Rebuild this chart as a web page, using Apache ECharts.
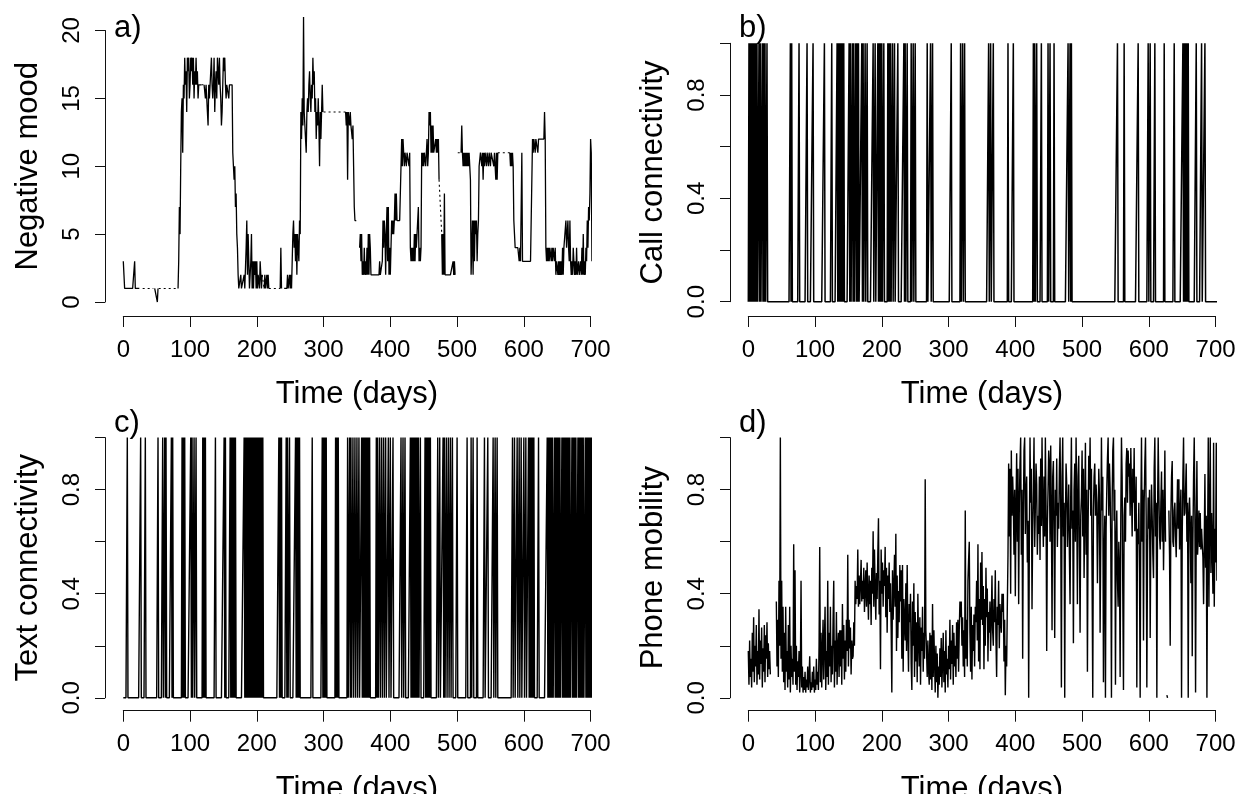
<!DOCTYPE html>
<html><head><meta charset="utf-8">
<script src="https://cdn.jsdelivr.net/npm/echarts@6/dist/echarts.min.js"></script>
<style>html,body{margin:0;padding:0;background:#fff}#c{width:1242px;height:794px}</style>
</head><body><div id="c"></div>
<script>
// ---------- data ----------
const panelLetters = ['a)', 'b)', 'c)', 'd)'];
const yTitles = ['Negative mood', 'Call connectivity', 'Text connectivity', 'Phone mobility'];
const xTitle = 'Time (days)';
const probTickLabels = ['0.0', '0.4', '0.8'];
const nDays = 706;

// a) negative mood, one value per day (null = missing day)
const mood = [
/*0*/ 3,2,1,1,1,1,1,1,1,1,
/*10*/ 1,1,1,1,1,1,1,3,1,1,
/*20*/ 1,1,1,1,1,1,null,1,null,1,
/*30*/ null,null,null,null,null,null,null,null,null,null,
/*40*/ null,null,null,null,null,1,null,1,1,1,
/*50*/ 1,0,1,1,null,null,null,null,null,null,
/*60*/ null,null,null,null,null,null,null,null,null,null,
/*70*/ null,null,null,null,null,null,null,null,null,null,
/*80*/ null,null,1,3,7,5,10,14,15,11,
/*90*/ 16,15,18,16,17,14,18,17,18,15,
/*100*/ 16,18,17,18,16,18,15,17,16,18,
/*110*/ 16,17,15,16,16,16,16,16,null,16,
/*120*/ null,16,16,15,16,15,14,13,16,15,
/*130*/ 16,17,18,16,15,16,18,14,16,17,
/*140*/ 15,18,17,16,18,16,15,13,14,16,
/*150*/ 18,17,18,16,15,16,16,16,15,16,
/*160*/ 16,16,16,16,11,10,9,10,7,8,
/*170*/ 5,4,2,1,1,1,2,1,1,1,
/*180*/ 1,2,1,1,4,6,2,5,3,1,
/*190*/ 2,3,5,1,3,1,3,2,3,1,
/*200*/ 3,1,2,2,1,3,2,1,2,null,
/*210*/ null,1,2,1,1,2,1,2,1,null,
/*220*/ null,null,null,null,null,null,null,null,null,null,
/*230*/ null,null,null,null,null,1,4,1,null,3,
/*240*/ null,1,1,1,1,1,2,1,1,2,
/*250*/ 1,2,1,3,5,6,4,5,3,5,
/*260*/ 2,5,4,3,6,5,14,12,15,13,
/*270*/ 21,14,14,12,11,14,15,14,16,17,
/*280*/ 15,14,16,15,18,16,17,14,15,12,
/*290*/ 14,13,15,13,10,14,12,14,16,14,
/*300*/ 14,null,null,null,null,14,14,null,null,null,
/*310*/ null,null,14,14,null,null,null,null,null,null,
/*320*/ 14,14,null,null,null,null,null,14,14,null,
/*330*/ null,null,null,14,13,14,9,14,14,13,
/*340*/ 14,13,13,12,13,10,7,6,6,6,
/*350*/ null,null,null,null,4,5,3,5,2,3,
/*360*/ 2,4,2,3,2,4,2,5,2,5,
/*370*/ 4,2,2,2,2,2,2,2,2,2,
/*380*/ 2,2,2,2,3,2,2,2,3,6,
/*390*/ 4,6,5,2,5,7,3,7,2,4,
/*400*/ 2,4,6,5,6,5,6,8,6,8,
/*410*/ 6,6,6,6,6,6,6,12,10,12,
/*420*/ 11,10,11,11,10,11,11,11,10,11,
/*430*/ 4,3,4,3,4,3,5,3,5,4,
/*440*/ 4,4,7,3,4,3,4,11,10,11,
/*450*/ 10,11,11,10,11,12,10,11,14,13,
/*460*/ 14,11,13,11,13,11,11,11,12,11,
/*470*/ 12,11,12,9,null,null,null,5,2,5,
/*480*/ 2,8,2,2,2,2,2,2,2,2,
/*490*/ 2,2,2,2,3,2,3,2,null,null,
/*500*/ 11,11,null,null,null,null,11,13,11,10,
/*510*/ 11,10,11,10,11,10,11,10,11,10,
/*520*/ 9,2,2,6,2,6,3,6,5,6,
/*530*/ 3,5,6,10,10,11,11,10,11,9,
/*540*/ 11,10,11,11,10,11,11,10,11,11,
/*550*/ 10,11,11,11,11,10,11,11,9,11,
/*560*/ 9,11,null,null,11,11,null,null,null,null,
/*570*/ null,null,11,11,null,null,null,null,null,11,
/*580*/ 10,11,10,11,10,6,5,4,4,4,
/*590*/ 4,4,4,3,4,3,3,11,3,3,
/*600*/ 3,3,3,3,3,3,3,3,3,3,
/*610*/ 3,3,3,12,11,12,12,11,12,12,
/*620*/ 12,11,12,12,12,12,12,12,12,12,
/*630*/ 12,14,12,4,3,4,3,4,3,4,
/*640*/ 4,3,4,3,4,4,3,4,2,3,
/*650*/ 3,2,3,2,3,2,3,2,4,2,
/*660*/ 4,4,4,6,4,4,6,4,3,6,
/*670*/ 3,2,3,2,4,3,2,3,2,4,
/*680*/ 2,2,3,2,2,3,2,4,2,5,
/*690*/ 2,3,2,4,3,6,4,7,6,8,
/*700*/ 12,11,3,10,11,11
];
// day ranges where missing mood values are bridged by the dotted line
const moodDottedSpans = [[29, 45], [53, 82], [117, 121], [208, 211], [218, 235], [300, 333], [473, 477], [501, 506], [561, 579]];

// b) days with a call (value 1), all other days 0
const callDays = [1,3,5,7,9,11,13,16,18,21,23,25,28,63,65,76,88,97,114,125,
  133,135,137,139,141,143,151,153,156,158,161,163,165,170,172,175,178,187,190,
  194,196,198,200,203,209,211,213,216,219,224,233,235,238,244,247,250,268,273,276,
  304,318,321,324,360,363,367,389,397,427,429,432,439,449,452,458,479,482,484,
  553,563,584,599,602,609,623,638,651,653,655,657,659,671,679,684];

// c) days with a text message (value 1), all other days 0
const textDays = [6,26,33,52,59,62,64,72,74,88,90,92,101,103,106,109,119,121,123,138,
  151,153,160,162,164,166,168,181,183,185,187,189,191,193,195,197,199,201,203,205,207,209,
  233,235,237,244,246,249,258,260,262,264,283,298,300,302,304,318,320,322,
  336,339,341,344,347,350,353,357,359,361,363,365,367,369,
  379,381,384,387,390,393,397,400,404,416,419,422,
  430,432,434,436,438,440,442,445,452,454,456,458,460,
  471,474,479,481,484,487,490,493,500,515,521,524,530,541,546,554,557,560,
  583,586,590,593,596,600,603,607,609,611,613,615,622,
  635,637,639,641,643,646,648,650,652,654,657,659,661,663,665,667,669,
  672,674,676,678,681,683,685,687,689,692,694,696,698,700,702];

// d) phone mobility, one value per day (null = missing day)
const mobility = [
/*0*/ 0.18,0.05,0.22,0.08,0.15,0.04,0.25,0.10,0.31,0.06,
/*10*/ 0.20,0.12,0.28,0.05,0.18,0.09,0.34,0.07,0.22,0.13,
/*20*/ 0.27,0.04,0.19,0.10,0.28,0.06,0.24,0.15,0.29,0.08,
/*30*/ 0.21,0.11,0.18,0.09,null,null,null,null,null,null,
/*40*/ null,null,0.37,0.12,0.30,0.08,0.45,0.20,1.00,0.15,
/*50*/ 0.45,0.10,0.35,0.06,0.25,0.03,0.35,0.10,0.18,0.04,
/*60*/ 0.28,0.07,0.35,0.02,0.20,0.08,0.15,0.05,0.59,0.10,
/*70*/ 0.49,0.05,0.20,0.03,0.14,0.08,0.18,0.02,0.10,0.45,
/*80*/ 0.04,0.12,0.02,0.08,0.03,0.10,0.02,0.07,0.04,0.12,
/*90*/ 0.03,0.08,0.16,0.02,0.06,0.03,0.10,0.04,0.12,0.02,
/*100*/ 0.07,0.03,0.15,0.05,0.10,0.03,0.20,0.58,0.06,0.25,
/*110*/ 0.04,0.18,0.30,0.07,0.22,0.35,0.03,0.18,0.08,0.45,
/*120*/ 0.05,0.25,0.12,0.35,0.06,0.20,0.09,0.30,0.45,0.04,
/*130*/ 0.22,0.10,0.33,0.05,0.19,0.25,0.08,0.26,0.12,0.26,
/*140*/ 0.05,0.36,0.15,0.28,0.07,0.22,0.10,0.30,0.18,0.55,
/*150*/ 0.12,0.30,0.19,0.27,0.09,0.22,0.15,0.16,0.29,0.20,
/*160*/ 0.45,0.36,0.43,0.38,0.57,0.35,0.47,0.36,0.44,0.53,
/*170*/ 0.37,0.45,0.38,0.50,0.33,0.42,0.49,0.35,0.52,0.40,
/*180*/ 0.30,0.47,0.36,0.45,0.28,0.50,0.40,0.64,0.35,0.57,
/*190*/ 0.42,0.30,0.48,0.38,0.55,0.69,0.32,0.45,0.11,0.57,
/*200*/ 0.40,0.52,0.35,0.49,0.43,0.58,0.31,0.50,0.25,0.47,
/*210*/ 0.38,0.52,0.33,0.44,0.27,0.02,0.49,0.30,0.42,0.55,
/*220*/ 0.35,0.63,0.18,0.47,0.23,0.41,0.29,0.51,0.37,0.49,
/*230*/ 0.15,0.51,0.10,0.38,0.29,0.22,0.44,0.18,0.51,0.25,
/*240*/ 0.10,0.36,0.29,0.40,0.13,0.03,0.37,0.20,0.44,0.08,
/*250*/ 0.33,0.14,0.29,0.06,0.40,0.22,0.12,0.31,0.05,0.27,
/*260*/ 0.18,0.35,0.10,0.25,0.15,0.84,0.26,0.18,0.08,0.22,
/*270*/ 0.11,0.05,0.25,0.07,0.24,0.03,0.36,0.08,0.26,0.14,
/*280*/ 0.02,0.20,0.06,0.17,0.00,0.12,0.05,0.19,0.08,0.23,
/*290*/ 0.04,0.14,0.25,0.06,0.18,0.02,0.26,0.09,0.15,0.04,
/*300*/ 0.20,0.11,0.30,0.07,0.22,0.13,0.28,0.05,0.25,0.12,
/*310*/ 0.20,0.08,0.29,0.15,0.30,0.10,0.26,0.37,0.31,0.37,
/*320*/ 0.20,0.31,0.12,0.26,0.08,0.72,0.15,0.30,0.12,0.45,
/*330*/ 0.53,0.60,0.25,0.10,0.35,0.07,0.28,0.18,0.32,0.12,
/*340*/ 0.35,0.29,0.45,0.22,0.59,0.14,0.38,0.11,0.52,0.30,
/*350*/ 0.56,0.28,0.43,0.11,0.38,0.20,0.50,0.31,0.42,0.14,
/*360*/ 0.33,0.25,0.37,0.18,0.30,0.47,0.26,0.20,0.38,0.29,
/*370*/ 0.49,0.22,0.08,0.35,0.28,0.45,0.19,0.36,0.30,0.25,
/*380*/ 0.40,0.33,0.40,0.14,0.30,0.01,0.20,0.12,0.35,0.55,
/*390*/ 0.90,0.62,0.88,0.40,0.95,0.70,0.85,0.75,0.55,0.80,
/*400*/ 0.39,0.72,0.94,0.60,0.88,0.36,0.75,0.90,1.00,0.55,
/*410*/ 0.80,0.15,0.70,0.95,1.00,0.63,0.78,0.85,0.52,0.68,
/*420*/ 0.00,0.60,1.00,0.75,0.88,0.34,0.65,0.80,1.00,0.58,
/*430*/ 0.73,0.90,0.82,0.55,0.70,0.63,0.85,0.53,0.92,0.66,
/*440*/ 1.00,0.72,0.58,0.85,0.62,1.00,0.74,0.18,0.66,0.80,
/*450*/ 0.95,0.90,0.60,0.97,0.72,0.26,0.85,0.91,0.65,0.23,
/*460*/ 0.80,0.70,0.92,0.58,0.75,0.65,0.88,1.00,0.70,0.04,
/*470*/ 0.85,1.00,0.62,0.75,0.00,0.68,0.90,0.82,0.58,0.70,
/*480*/ 0.82,0.55,0.36,0.78,1.00,0.65,0.72,0.21,0.80,0.90,
/*490*/ 0.60,1.00,0.75,0.36,0.85,0.93,0.58,0.25,0.70,0.77,
/*500*/ 0.95,0.62,0.88,0.46,0.72,0.98,0.55,0.80,0.10,0.65,
/*510*/ 0.93,0.80,1.00,0.70,0.88,0.45,0.00,0.72,0.85,0.90,
/*520*/ 0.70,0.82,0.75,0.44,0.65,0.88,0.78,0.25,0.60,1.00,
/*530*/ 0.72,0.85,0.06,0.55,0.70,0.00,0.65,0.80,0.92,1.00,
/*540*/ 0.70,0.90,0.80,0.60,0.00,0.75,0.95,1.00,0.68,0.80,
/*550*/ 0.05,0.60,0.72,0.45,0.35,0.60,0.50,0.08,0.70,1.00,
/*560*/ 0.85,0.40,0.03,0.70,0.77,0.60,0.90,0.96,0.75,0.95,
/*570*/ 0.85,0.90,0.70,0.96,0.80,0.62,0.88,0.75,0.96,0.64,
/*580*/ 0.70,0.85,0.04,0.65,0.59,0.75,0.48,0.00,0.70,1.00,
/*590*/ 0.60,0.80,0.22,0.75,0.90,1.00,0.70,0.04,0.55,0.77,
/*600*/ 0.65,0.80,0.23,0.62,0.82,0.70,0.55,0.46,0.88,1.00,
/*610*/ 0.62,0.75,0.00,0.70,1.00,0.80,0.62,0.57,0.75,0.87,
/*620*/ 0.60,0.80,0.49,0.70,0.95,0.60,null,0.01,0.00,null,
/*630*/ 0.72,0.55,0.20,0.70,0.85,0.91,0.60,0.58,0.72,0.75,
/*640*/ 0.62,0.54,0.70,0.84,0.65,0.84,0.57,0.70,0.80,0.00,
/*650*/ 0.62,0.85,1.00,0.70,0.71,0.80,0.90,0.60,0.75,0.00,
/*660*/ 0.70,0.77,0.65,0.44,0.70,0.16,0.60,0.85,1.00,0.70,
/*670*/ 0.02,0.65,0.91,0.55,0.62,0.72,0.58,0.71,0.57,0.65,
/*680*/ 0.59,0.54,0.36,0.60,0.86,0.50,0.70,0.00,0.60,1.00,
/*690*/ 0.35,0.70,1.00,0.48,0.71,0.57,0.40,0.98,0.35,0.65,
/*700*/ 0.52,0.98,0.45,0.58,0.50,0.52
];

// ---------- build library data ----------
const pairs = arr => arr.map((v, i) => [i, v]);
const eventsToDaily = list => {
  const out = [];
  for (let i = 0; i < nDays; i++) out.push(0);
  list.forEach(d => { out[d] = 1; });
  return out;
};
const callDaily = eventsToDaily(callDays);
const textDaily = eventsToDaily(textDays);
// dotted bridges: only the observed mood values inside each listed span
const dottedSeries = moodDottedSpans.map(([s, e]) => ({
  type: 'line', showSymbol: false, symbol: 'none', silent: true, clip: false, animation: false,
  xAxisIndex: 0, yAxisIndex: 0, connectNulls: true, z: 1,
  data: pairs(mood).filter(p => p[0] >= s && p[0] <= e),
  lineStyle: { color: '#000', width: 1.1, type: [2, 3] }
}));

const FONT = '"Liberation Sans", Arial, sans-serif';
const grids = [
  { left: 123.3, top: 30.5, width: 467.3, height: 271.5 },
  { left: 748.3, top: 43.3, width: 467.3, height: 258.4 },
  { left: 123.3, top: 437.6, width: 467.3, height: 260.2 },
  { left: 748.3, top: 437.6, width: 467.3, height: 260.2 }
];
const xOffsets = [14, 14.3, 12.9, 12.9];

const xAxes = grids.map((g, i) => ({
  gridIndex: i, type: 'value', min: 0, max: 700, interval: 100, offset: xOffsets[i],
  axisLine: { show: true, onZero: false, lineStyle: { color: '#111', width: 1 } },
  axisTick: { show: true, length: 11, lineStyle: { color: '#111', width: 1 } },
  axisLabel: { fontSize: 24, color: '#000', margin: 22, fontFamily: FONT, showMinLabel: true, showMaxLabel: true },
  splitLine: { show: false },
  name: xTitle, nameLocation: 'middle', nameGap: 63,
  nameTextStyle: { fontSize: 31, color: '#000', fontFamily: FONT }
}));

const yAxes = grids.map((g, i) => {
  const isMood = i === 0;
  return {
    gridIndex: i, type: 'value', min: 0, max: isMood ? 20 : 1, interval: isMood ? 5 : 0.2,
    offset: 18.3,
    axisLine: { show: true, onZero: false, lineStyle: { color: '#111', width: 1 } },
    axisTick: { show: true, length: 10, lineStyle: { color: '#111', width: 1 } },
    axisLabel: {
      fontSize: 24, color: '#000', margin: 21, rotate: 90, fontFamily: FONT,
      showMinLabel: true, showMaxLabel: true,
      formatter: v => {
        if (isMood) return String(v);
        const s = v.toFixed(1);
        return probTickLabels.indexOf(s) >= 0 ? s : '';
      }
    },
    splitLine: { show: false },
    name: yTitles[i], nameLocation: 'middle', nameGap: 61, nameRotate: 90,
    nameTextStyle: { fontSize: 31, color: '#000', fontFamily: FONT }
  };
});

const lineBase = {
  type: 'line', showSymbol: false, symbol: 'none', silent: true, clip: false, animation: false
};
const series = dottedSeries.concat([
  Object.assign({}, lineBase, { xAxisIndex: 0, yAxisIndex: 0, data: pairs(mood), connectNulls: false, z: 2,
    lineStyle: { color: '#000', width: 1.3 } }),
  Object.assign({}, lineBase, { xAxisIndex: 1, yAxisIndex: 1, data: pairs(callDaily), z: 2,
    lineStyle: { color: '#000', width: 1.5 } }),
  Object.assign({}, lineBase, { xAxisIndex: 2, yAxisIndex: 2, data: pairs(textDaily), z: 2,
    lineStyle: { color: '#000', width: 1.4 } }),
  Object.assign({}, lineBase, { xAxisIndex: 3, yAxisIndex: 3, data: pairs(mobility), connectNulls: false, z: 2,
    lineStyle: { color: '#000', width: 1.4 } })
]);

const letterPos = [[114, 28.6], [739, 28.6], [114, 423.1], [739, 423.1]];
const graphic = panelLetters.map((t, i) => ({
  type: 'text', x: letterPos[i][0], y: letterPos[i][1], silent: true,
  style: { text: t, font: '31px ' + FONT, fill: '#000', verticalAlign: 'middle', align: 'left' }
}));

const chart = echarts.init(document.getElementById('c'), null, { renderer: 'canvas' });
chart.setOption({
  backgroundColor: '#fff',
  animation: false,
  textStyle: { fontFamily: FONT },
  grid: grids.map(g => Object.assign({ outerBoundsMode: 'none', containLabel: false }, g)),
  xAxis: xAxes,
  yAxis: yAxes,
  series: series,
  graphic: graphic
});
</script>
</body></html>
